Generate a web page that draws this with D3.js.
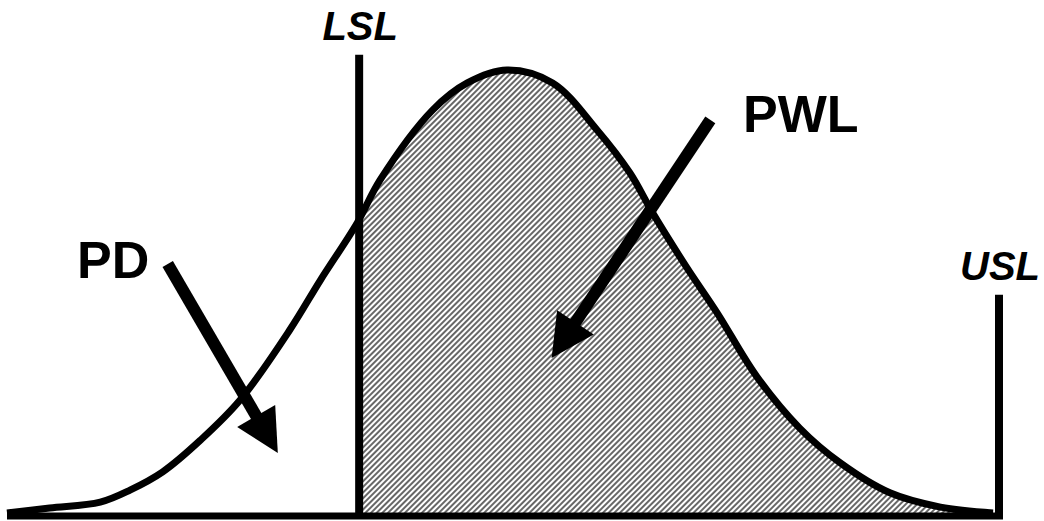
<!DOCTYPE html>
<html>
<head>
<meta charset="utf-8">
<script src="https://cdn.jsdelivr.net/npm/d3@7"></script>
<style>
  html, body { margin: 0; padding: 0; background: #fff; }
  svg { display: block; }
</style>
</head>
<body>
<script>
// distribution curve (x in process units 0..100, y relative density)
const curveX = [0, 4.3, 9.4, 12.4, 15.7, 19.5, 23.5, 28.5, 31.6, 35.3, 37.6, 42.9, 46.4, 50.4,
                55.0, 59.5, 62.8, 65.1, 68.5, 71.6, 75.6, 79.9, 84.0, 89.0, 94.1, 99.4];
const curveY = [0.007, 0.018, 0.031, 0.058, 0.099, 0.170, 0.260, 0.417, 0.529, 0.657, 0.753, 0.910, 0.971, 1.0,
                0.971, 0.865, 0.769, 0.679, 0.558, 0.455, 0.312, 0.197, 0.119, 0.052, 0.020, 0.007];

// spec limits
const limitNames = ['LSL', 'USL'];
const limitX = [35.5, 100];
const limitTop = [1.034, 0.496];

// arrows: tail and tip, plus label position
const arrowNames = ['PD', 'PWL'];
const arrowTail = [[16.2, 0.565], [70.9, 0.888]];
const arrowTip = [[27.3, 0.141], [54.9, 0.354]];
const labelPos = [[7.06, 0.534], [74.2, 0.861]];

const width = 1044, height = 521;

const svg = d3.select('body').append('svg')
  .attr('width', width)
  .attr('height', height);

const x = d3.scaleLinear().domain([0, 100]).range([7, 999]);
const y = d3.scaleLinear().domain([0, 1]).range([516, 70]);

const pts = curveX.map((d, i) => [d, curveY[i]]);

const defs = svg.append('defs');
defs.append('pattern')
  .attr('id', 'hatch')
  .attr('patternUnits', 'userSpaceOnUse')
  .attr('width', 4)
  .attr('height', 4)
  .attr('patternTransform', 'rotate(45)')
  .append('line')
  .attr('x1', 1).attr('y1', -1)
  .attr('x2', 1).attr('y2', 5)
  .attr('stroke', '#333')
  .attr('stroke-width', 1.5);

defs.append('clipPath').attr('id', 'rightOfLsl')
  .append('rect')
  .attr('x', x(limitX[0]))
  .attr('y', 0)
  .attr('width', width - x(limitX[0]))
  .attr('height', height);

const area = d3.area()
  .x(d => x(d[0]))
  .y0(y(0))
  .y1(d => y(d[1]))
  .curve(d3.curveCatmullRom);

const line = d3.line()
  .x(d => x(d[0]))
  .y(d => y(d[1]))
  .curve(d3.curveCatmullRom);

svg.append('path')
  .datum(pts)
  .attr('d', area)
  .attr('fill', 'url(#hatch)')
  .attr('clip-path', 'url(#rightOfLsl)');

svg.append('path')
  .datum(pts)
  .attr('d', line)
  .attr('fill', 'none')
  .attr('stroke', '#000')
  .attr('stroke-width', 7)
  .attr('stroke-linejoin', 'round');

// baseline
svg.append('line')
  .attr('x1', x(0)).attr('x2', x(100) + 4)
  .attr('y1', y(0)).attr('y2', y(0))
  .attr('stroke', '#000')
  .attr('stroke-width', 7);

// limit lines
svg.selectAll('.limit')
  .data(limitNames)
  .enter().append('line')
  .attr('class', 'limit')
  .attr('x1', (d, i) => x(limitX[i]))
  .attr('x2', (d, i) => x(limitX[i]))
  .attr('y1', (d, i) => y(limitTop[i]))
  .attr('y2', y(0))
  .attr('stroke', '#000')
  .attr('stroke-width', 8);

svg.selectAll('.limitLabel')
  .data(limitNames)
  .enter().append('text')
  .attr('class', 'limitLabel')
  .attr('x', (d, i) => x(limitX[i]) + 1)
  .attr('y', (d, i) => y(limitTop[i]) - 15)
  .attr('text-anchor', 'middle')
  .attr('font-family', '"Liberation Sans", Arial, sans-serif')
  .attr('font-weight', 'bold')
  .attr('font-style', 'italic')
  .attr('font-size', 40)
  .text(d => d);

// arrows
const headLen = 43, headHalf = 22;
arrowNames.forEach((name, i) => {
  const tx = x(arrowTail[i][0]), ty = y(arrowTail[i][1]);
  const px = x(arrowTip[i][0]), py = y(arrowTip[i][1]);
  const len = Math.hypot(px - tx, py - ty);
  const ux = (px - tx) / len, uy = (py - ty) / len;
  const bx = px - ux * headLen, by = py - uy * headLen;
  svg.append('line')
    .attr('x1', tx).attr('y1', ty)
    .attr('x2', bx + ux * 2).attr('y2', by + uy * 2)
    .attr('stroke', '#000')
    .attr('stroke-width', 12);
  svg.append('polygon')
    .attr('points', [[px, py], [bx - uy * headHalf, by + ux * headHalf], [bx + uy * headHalf, by - ux * headHalf]].join(' '))
    .attr('fill', '#000');
  svg.append('text')
    .attr('x', x(labelPos[i][0]))
    .attr('y', y(labelPos[i][1]))
    .attr('font-family', '"Liberation Sans", Arial, sans-serif')
    .attr('font-weight', 'bold')
    .attr('font-size', 52)
    .text(name);
});
</script>
</body>
</html>
